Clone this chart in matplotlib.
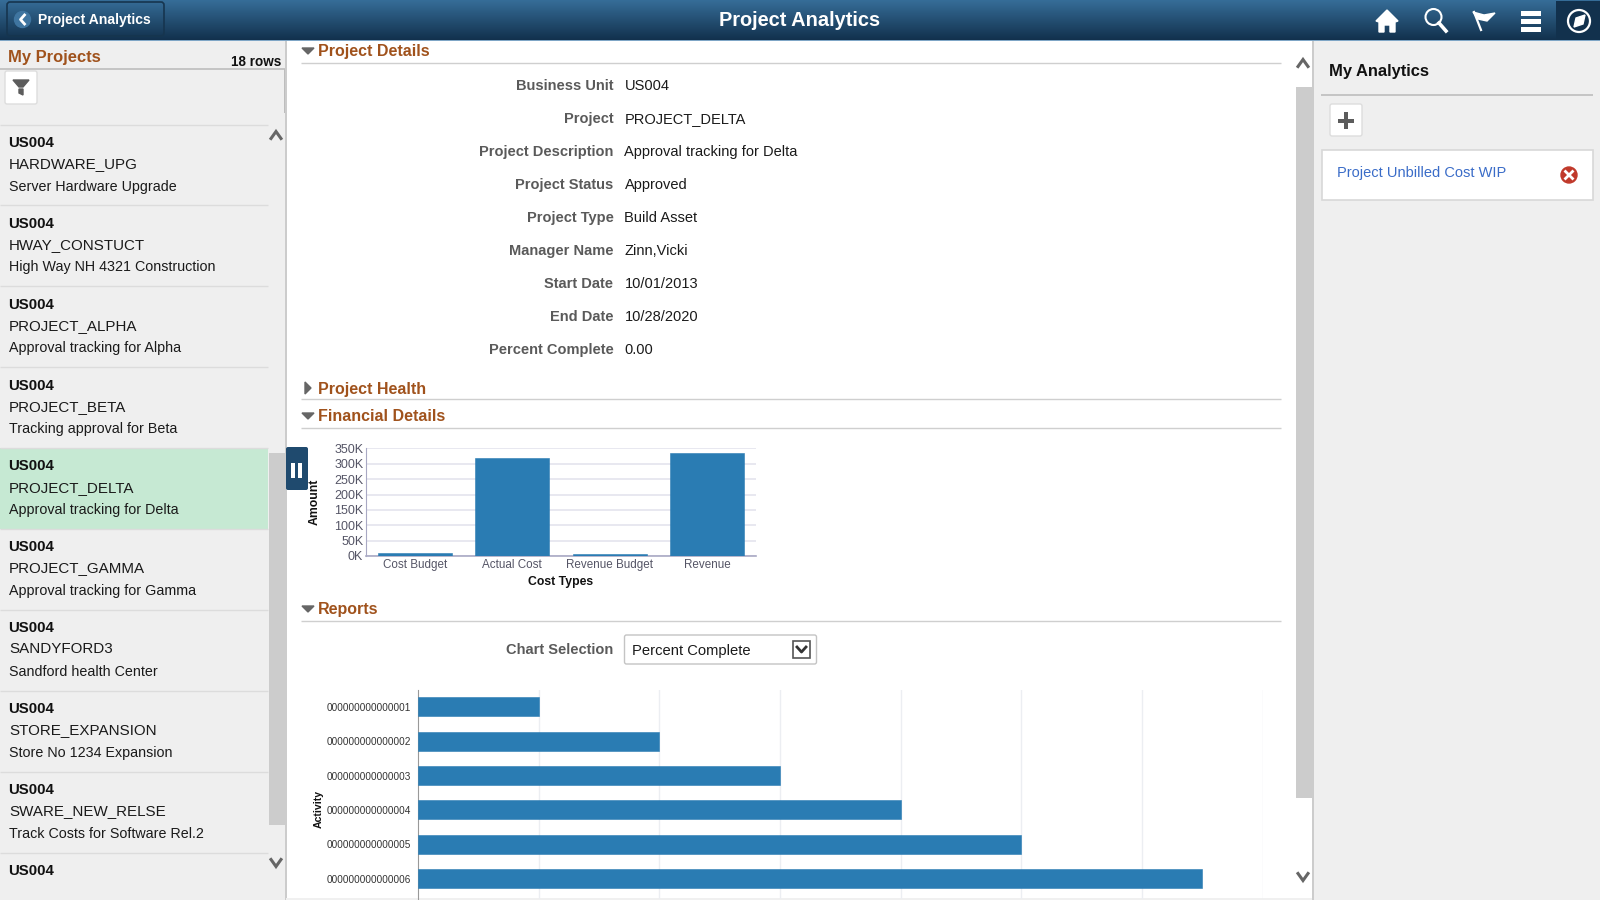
import numpy as np
import matplotlib
matplotlib.use('Agg')
import matplotlib.pyplot as plt
from matplotlib.patches import Rectangle, Polygon, Circle, FancyBboxPatch
from matplotlib.ticker import FuncFormatter

plt.rcParams['font.family'] = ['Liberation Sans', 'DejaVu Sans']

# данные
cost_types = ['Cost Budget', 'Actual Cost', 'Revenue Budget', 'Revenue']
cost_amounts = [11000, 319000, 8000, 336000]
amount_ticks = [0, 50000, 100000, 150000, 200000, 250000, 300000, 350000]

activities = ['000000000000001', '000000000000002', '000000000000003',
              '000000000000004', '000000000000005', '000000000000006']
percent_complete = [1, 2, 3, 4, 5, 6.5]
percent_ticks = [1, 2, 3, 4, 5, 6, 7]

project_units = ['US004'] * 10
project_ids = ['HARDWARE_UPG', 'HWAY_CONSTUCT', 'PROJECT_ALPHA', 'PROJECT_BETA', 'PROJECT_DELTA',
               'PROJECT_GAMMA', 'SANDYFORD3', 'STORE_EXPANSION', 'SWARE_NEW_RELSE', '']
project_names = ['Server Hardware Upgrade', 'High Way NH 4321 Construction', 'Approval tracking for Alpha',
                 'Tracking approval for Beta', 'Approval tracking for Delta', 'Approval tracking for Gamma',
                 'Sandford health Center', 'Store No 1234 Expansion', 'Track Costs for Software Rel.2', '']

detail_labels = ['Business Unit', 'Project', 'Project Description', 'Project Status', 'Project Type',
                 'Manager Name', 'Start Date', 'End Date', 'Percent Complete']
detail_values = ['US004', 'PROJECT_DELTA', 'Approval tracking for Delta', 'Approved', 'Build Asset',
                 'Zinn,Vicki', '10/01/2013', '10/28/2020', '0.00']

BLUE = '#2a7cb3'
BROWN = '#a0521c'
GREY_BG = '#efefef'
TXT = '#1a1a1a'
LABEL = '#5a5a5a'

W, H = 1600, 900
fig = plt.figure(figsize=(16, 9), dpi=100, facecolor='white')
ui = fig.add_axes([0, 0, 1, 1])
ui.set_xlim(0, W)
ui.set_ylim(H, 0)
ui.axis('off')


def px(size):
    return size * 0.72


def rect(x0, y0, x1, y1, color, **kw):
    ui.add_patch(Rectangle((x0, y0), x1 - x0, y1 - y0, facecolor=color, edgecolor=kw.pop('ec', 'none'),
                           linewidth=kw.pop('lw', 0), **kw))


def hline(y, x0, x1, color='#cfcfcf', lw=1.0):
    ui.plot([x0, x1], [y, y], color=color, lw=lw, solid_capstyle='butt')


def chevron(x, y, up=True, color='#666666'):
    d = -3.5 if up else 3.5
    ui.plot([x - 5, x, x + 5], [y - d, y + d, y - d], color=color, lw=2.2, solid_joinstyle='miter')


def label(x, y, s, size=15, color=TXT, weight='normal', ha='left'):
    ui.text(x, y + 1, s, fontsize=px(size), color=color, fontweight=weight, ha=ha, va='center')


def section(y, title, line_y, is_open=True):
    if is_open:
        ui.add_patch(Polygon([[302, y - 2], [314, y - 2], [308, y + 4]], color='#666666'))
    else:
        ui.add_patch(Polygon([[305, y - 6], [311, y], [305, y + 6]], color='#666666'))
    label(318, y + 0.4, title, size=16, color=BROWN, weight='bold')
    hline(line_y, 301, 1281)


# фон панелей
rect(0, 40, 285, H, GREY_BG)
rect(1313, 40, W, H, GREY_BG)
rect(285, 40, 286.5, H, '#cccccc')
rect(1312, 40, 1313.5, H, '#cccccc')
rect(286, 898, 1312, H, '#f0f0f0')

# шапка
ui.imshow(np.linspace(0, 1, 64).reshape(-1, 1),
          cmap=matplotlib.colors.LinearSegmentedColormap.from_list('hdr', ['#366d98', '#12314d']),
          extent=[0, W, 40, 0], aspect='auto', zorder=1)
ui.set_xlim(0, W)
ui.set_ylim(H, 0)
rect(0, 40, W, 41, '#7fa6c6', zorder=2)
rect(1556, 1, W, 40, '#12314d', zorder=2)
ui.add_patch(FancyBboxPatch((7, 2), 157, 34, boxstyle='round,pad=0,rounding_size=3', facecolor='none',
                            edgecolor='#16354f', lw=1.2, zorder=3))
ui.add_patch(Circle((22.5, 19.5), 8, color='#3f75a0', zorder=3))
ui.plot([24.5, 20.5, 24.5], [15, 19.5, 24], color='white', lw=2, zorder=4)
ui.text(37.5, 20, 'Project Analytics', fontsize=px(14), color='white', fontweight='bold', va='center', zorder=4)
ui.text(800, 20.5, 'Project Analytics', fontsize=px(20), color='white', fontweight='bold', va='center',
        ha='center', zorder=4)

# значки шапки
ui.add_patch(Polygon([[1376, 21], [1387, 10], [1398, 21], [1395, 22], [1395, 32], [1390, 32], [1390, 25],
                      [1384, 25], [1384, 32], [1379, 32], [1379, 22]], color='white', zorder=4))
ui.add_patch(Circle((1433.5, 17), 8, facecolor='none', edgecolor='white', lw=1.5, zorder=4))
ui.plot([1439, 1446], [23, 31], color='white', lw=2.6, zorder=4)
ui.add_patch(Polygon([[1473, 12], [1484, 15], [1495, 13], [1487, 21], [1478, 19]], color='white', zorder=4))
ui.plot([1474, 1481], [12, 30], color='white', lw=1.6, zorder=4)
for y in (13, 21, 29):
    rect(1521, y - 2.5, 1541, y + 2.5, 'white', zorder=4)
ui.add_patch(Circle((1579, 21), 11, facecolor='none', edgecolor='white', lw=1.6, zorder=4))
ui.add_patch(Polygon([[1574, 27], [1576, 18], [1585, 15], [1583, 24]], color='white', zorder=4))

# левая панель
label(8, 56.5, 'My Projects', size=16.5, color=BROWN, weight='bold')
label(281, 60.5, '18 rows', size=13.5, color='#111111', weight='bold', ha='right')
hline(68.5, 0, 285, '#bdbdbd', 1.2)
rect(283.5, 69, 285, 113, '#bdbdbd')
ui.add_patch(FancyBboxPatch((5, 71), 32, 33, boxstyle='round,pad=0,rounding_size=2', facecolor='white',
                            edgecolor='#dddddd', lw=1))
ui.add_patch(Polygon([[13, 80], [29, 80], [23, 87], [19, 87]], color='#5c5c5c'))
ui.add_patch(Polygon([[19, 89], [23, 89], [23, 95], [19, 93]], color='#5c5c5c'))

row_top = 124.5
row_step = 80.9
for i, (unit, pid, name) in enumerate(zip(project_units, project_ids, project_names)):
    top = row_top + i * row_step
    if pid == 'PROJECT_DELTA':
        rect(0, top, 268, top + row_step, '#c6e9d3')
    hline(top, 0, 268, '#dcdcdc')
    label(8.5, top + 17.3, unit, size=15, color='#111111', weight='bold')
    label(9, top + 38.5, pid, size=15.1, color=TXT)
    label(9, top + 61, name, size=14.2, color=TXT)
rect(0, 899, 268, H, GREY_BG, zorder=3)

rect(269, 453, 285, 825, '#cccccc')
chevron(276, 135, True)
chevron(276, 863, False)

# кнопка-пауза
ui.add_patch(FancyBboxPatch((286, 447), 22, 43, boxstyle='round,pad=0,rounding_size=2', facecolor='#1f4a6e',
                            edgecolor='none', zorder=4))
rect(291, 463, 295, 478, 'white', zorder=5)
rect(298, 463, 302, 478, 'white', zorder=5)

# детали проекта
section(50, 'Project Details', 63)
detail_top = 85
detail_step = 33
for i, (name, value) in enumerate(zip(detail_labels, detail_values)):
    y = detail_top + i * detail_step
    label(613.5, y, name, size=14.6, color=LABEL, weight='bold', ha='right')
    label(624.5, y, value, size=14.6, color=TXT)

section(388, 'Project Health', 399, is_open=False)
section(415, 'Financial Details', 427.5)
section(608, 'Reports', 621)

label(613.5, 649.5, 'Chart Selection', size=14.6, color=LABEL, weight='bold', ha='right')
ui.add_patch(FancyBboxPatch((624.5, 635), 192, 29, boxstyle='round,pad=0,rounding_size=2', facecolor='white',
                            edgecolor='#c4c4c4', lw=1))
label(632, 649.5, 'Percent Complete', size=14.8, color=TXT)
ui.add_patch(Rectangle((793, 641), 17, 17, facecolor='white', edgecolor='#555555', lw=1.2))
ui.plot([797, 801.5, 806], [647, 652, 647], color='#333333', lw=2)

# полоса прокрутки
rect(1296, 87, 1312, 798, '#cccccc')
chevron(1303, 63, True)
chevron(1303, 877, False)

# правая панель
label(1329, 70.5, 'My Analytics', size=16.5, color='#111111', weight='bold')
hline(94.5, 1321, 1593, '#bdbdbd', 1.2)
ui.add_patch(FancyBboxPatch((1330, 104), 32, 32, boxstyle='round,pad=0,rounding_size=2', facecolor='white',
                            edgecolor='#dddddd', lw=1))
rect(1338, 118.5, 1354, 122.5, '#5c5c5c')
rect(1344, 112, 1348, 129, '#5c5c5c')
ui.add_patch(Rectangle((1321.5, 150), 271.5, 49.5, facecolor='white', edgecolor='#d8d8d8', lw=1.2))
label(1337, 172.5, 'Project Unbilled Cost WIP', size=14.6, color='#3a6cc8')
ui.add_patch(Circle((1569, 175), 8, color='#c0392b'))
ui.plot([1565.5, 1572.5], [171.5, 178.5], color='white', lw=2)
ui.plot([1565.5, 1572.5], [178.5, 171.5], color='white', lw=2)


def chart_axes(x0, y0, x1, y1):
    return fig.add_axes([x0 / W, 1 - y1 / H, (x1 - x0) / W, (y1 - y0) / H])


# столбчатая диаграмма
ax = chart_axes(366, 448.5, 756, 556)
ax.set_facecolor('none')
ax.bar(cost_types, cost_amounts, width=0.76, color=BLUE, edgecolor=BLUE, linewidth=0.4, zorder=3)
ax.set_xlim(-0.5, 3.5)
ax.set_ylim(0, 350000)
ax.set_yticks(amount_ticks)
ax.yaxis.set_major_formatter(FuncFormatter(lambda v, p: f'{v / 1000:.0f}K'))
ax.grid(axis='y', color='#e4e4ee', lw=1.2, zorder=0)
ax.tick_params(axis='y', length=0, labelsize=px(12.5), labelcolor='#555566', pad=2)
ax.tick_params(axis='x', length=0, labelsize=px(11.6), labelcolor='#555566', pad=2.5)
for s in ('top', 'right'):
    ax.spines[s].set_visible(False)
ax.spines['left'].set_color('#a9a9c4')
ax.spines['bottom'].set_color('#a9a9c4')
ax.spines['bottom'].set_linewidth(1.2)
ax.set_xlabel('Cost Types', fontsize=px(12.2), fontweight='bold', color='#111111')
ax.xaxis.set_label_coords(0.5, -0.19)
ax.set_ylabel('Amount', fontsize=px(12.2), fontweight='bold', color='#111111')
ax.yaxis.set_label_coords(-0.117, 0.5)

# горизонтальная диаграмма
ax2 = chart_axes(418.2, 690, 1262.5, 898.5)
ax2.set_facecolor('none')
ax2.barh(activities, percent_complete, height=0.55, color=BLUE, edgecolor=BLUE, linewidth=0.4, zorder=3)
ax2.set_xlim(0, 7)
ax2.set_ylim(5.58, -0.49)
ax2.set_xticks(percent_ticks)
ax2.tick_params(axis='x', length=0, labelbottom=False)
ax2.tick_params(axis='y', length=0, labelsize=px(10), labelcolor='#333333', pad=5)
ax2.grid(axis='x', color='#eceef2', lw=1, zorder=0)
for s in ('top', 'right', 'bottom'):
    ax2.spines[s].set_visible(False)
ax2.spines['left'].set_color('#999999')
ax2.set_ylabel('Activity', fontsize=px(10.5), fontweight='bold', color='#111111')
ax2.yaxis.set_label_coords(-0.112, 0.43)

fig.savefig('out.png', dpi=100)
